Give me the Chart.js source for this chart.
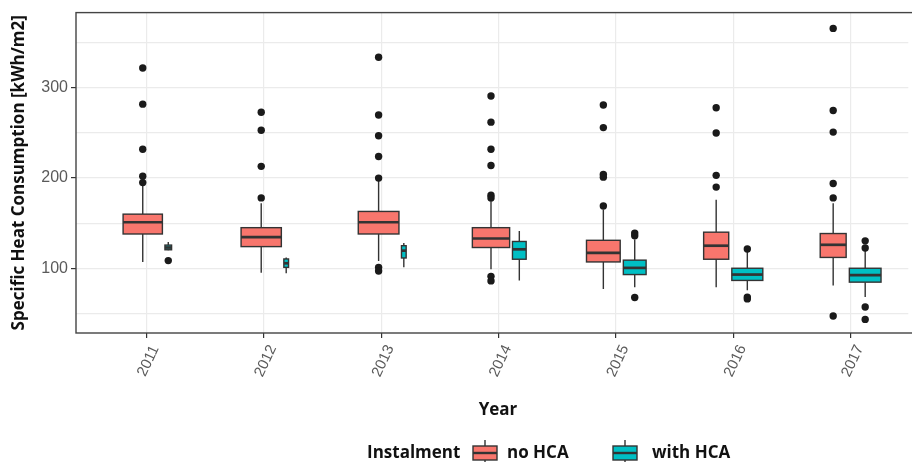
<!DOCTYPE html>
<html>
<head>
<meta charset="utf-8">
<script src="https://cdn.jsdelivr.net/npm/chart.js@4.4.0/dist/chart.umd.min.js"></script>
<style>
  body { margin: 0; background: #fff; }
</style>
</head>
<body>
<canvas id="heatChart" width="912" height="462"></canvas>
<script>
const years = ['2011', '2012', '2013', '2014', '2015', '2016', '2017'];

// [lower whisker, Q1, median, Q3, upper whisker]
const noHca = [
  [107, 138, 151, 160, 192],
  [95, 124, 134.5, 145, 172],
  [108, 138, 151, 163, 197],
  [99, 123, 133, 145, 176],
  [77, 107, 117, 131, 165],
  [79, 110, 125, 140, 176],
  [81, 112, 126, 138.5, 172]
];
const withHca = [
  [120, 120.5, 123, 125.7, 129],
  [94.5, 101, 105.5, 110.3, 112],
  [101, 111.4, 119.5, 125, 128],
  [86.5, 110, 121, 129.7, 141.4],
  [79, 93, 100.4, 109, 132],
  [75.5, 86.5, 93, 100, 119.5],
  [68, 84.6, 92.3, 100, 121]
];
const noHcaOutliers = [
  [322, 282, 232, 202, 195],
  [273, 253, 213, 178],
  [334, 270, 247, 224, 200, 101, 97],
  [291, 262, 232, 214, 181, 178, 91, 86],
  [281, 256, 204, 201, 169],
  [278, 250, 203, 190],
  [366, 275, 251, 194, 178, 47]
];
const withHcaOutliers = [
  [108.5],
  [],
  [],
  [],
  [139, 136, 67.5],
  [121.3, 68, 66],
  [130.4, 122.5, 57, 43.3]
];
// buildings per group, box width follows sqrt(n)
const noHcaN = [140, 147, 150, 126, 103, 57, 61];
const withHcaN = [4, 2, 2, 17, 47, 87, 91];

const yTicks = [50, 100, 150, 200, 250, 300, 350];
const seriesNames = ['no HCA', 'with HCA'];
const fillColors = ['#F8766D', '#00BFC4'];

// dodge the two boxes of each year side by side (varwidth)
const maxN = Math.max(...noHcaN, ...withHcaN);
const slotWidth = n => 0.77 * Math.sqrt(n / maxN) / 2;
let boxes = [];
years.forEach((yr, i) => {
  const w0 = slotWidth(noHcaN[i]);
  const w1 = slotWidth(withHcaN[i]);
  boxes.push({ x: i - w1 / 2, w: w0 * 0.9, s: noHca[i], out: noHcaOutliers[i], c: 0 });
  boxes.push({ x: i + w0 / 2, w: w1 * 0.9, s: withHca[i], out: withHcaOutliers[i], c: 1 });
});

const outlierData = [0, 1].map(c => {
  let pts = [];
  boxes.filter(b => b.c === c).forEach(b => b.out.forEach(v => pts.push({ x: b.x, y: v })));
  return pts;
});

const boldFont = '"Open Sans", sans-serif';

const boxPlugin = {
  id: 'boxes',
  beforeDatasetsDraw(chart) {
    const { ctx, scales: { x, y } } = chart;
    ctx.save();
    boxes.forEach(b => {
      const cx = x.getPixelForValue(b.x);
      const left = x.getPixelForValue(b.x - b.w / 2);
      const right = x.getPixelForValue(b.x + b.w / 2);
      const [lo, q1, med, q3, hi] = b.s.map(v => y.getPixelForValue(v));
      ctx.strokeStyle = '#333';
      ctx.lineWidth = 1.4;
      ctx.beginPath();
      ctx.moveTo(cx, lo); ctx.lineTo(cx, q1);
      ctx.moveTo(cx, q3); ctx.lineTo(cx, hi);
      ctx.stroke();
      ctx.fillStyle = fillColors[b.c];
      ctx.fillRect(left, q3, right - left, q1 - q3);
      ctx.strokeRect(left, q3, right - left, q1 - q3);
      ctx.lineWidth = 2.7;
      ctx.beginPath();
      ctx.moveTo(left, med); ctx.lineTo(right, med);
      ctx.stroke();
    });
    ctx.restore();
  },
  afterDraw(chart) {
    const { ctx, chartArea, scales: { x } } = chart;
    ctx.save();
    // panel border
    ctx.strokeStyle = '#444';
    ctx.lineWidth = 1.4;
    ctx.strokeRect(chartArea.left, chartArea.top, chartArea.right - chartArea.left + 20, chartArea.bottom - chartArea.top);

    // rotated year labels
    ctx.fillStyle = '#5a5a5a';
    ctx.font = '15px "Liberation Sans", Arial, sans-serif';
    ctx.textAlign = 'center';
    ctx.textBaseline = 'middle';
    years.forEach((yr, i) => {
      ctx.save();
      ctx.translate(x.getPixelForValue(i) + 2, 361);
      ctx.rotate(-65 * Math.PI / 180);
      ctx.fillText(yr, 0, 0);
      ctx.restore();
    });

    // axis title
    ctx.fillStyle = '#111';
    ctx.font = 'bold 17px ' + boldFont;
    ctx.fillText('Year', 498, 410);

    // legend
    ctx.textAlign = 'left';
    ctx.fillText('Instalment', 367, 453);
    const keys = [{ x: 473, label: 507 }, { x: 613, label: 652 }];
    keys.forEach((k, c) => {
      const w = 24;
      ctx.strokeStyle = '#333';
      ctx.lineWidth = 1.4;
      ctx.beginPath();
      ctx.moveTo(k.x + w / 2, 440); ctx.lineTo(k.x + w / 2, 470);
      ctx.stroke();
      ctx.fillStyle = fillColors[c];
      ctx.fillRect(k.x, 446, w, 14);
      ctx.strokeRect(k.x, 446, w, 14);
      ctx.lineWidth = 2.4;
      ctx.beginPath();
      ctx.moveTo(k.x, 453); ctx.lineTo(k.x + w, 453);
      ctx.stroke();
      ctx.fillStyle = '#111';
      ctx.fillText(seriesNames[c], k.label, 453);
    });
    ctx.restore();
  }
};

new Chart('heatChart', {
  type: 'scatter',
  data: {
    datasets: [0, 1].map(c => ({
      label: seriesNames[c],
      data: outlierData[c],
      pointRadius: 3.7,
      pointHoverRadius: 3.7,
      backgroundColor: '#1a1a1a',
      borderWidth: 0
    }))
  },
  options: {
    responsive: false,
    animation: false,
    layout: { padding: { top: 10, right: 0, bottom: 0, left: 0 } },
    plugins: { legend: { display: false }, tooltip: { enabled: false } },
    scales: {
      x: {
        type: 'linear',
        min: -0.6,
        max: 6.49,
        afterBuildTicks: s => { s.ticks = years.map((yr, i) => ({ value: i })); },
        afterFit: s => { s.height = 129; },
        ticks: { display: false },
        border: { display: false },
        grid: { color: '#ebebeb', lineWidth: 1.2, tickColor: '#333', tickLength: 5 }
      },
      y: {
        min: 28.2,
        max: 383.5,
        afterBuildTicks: s => { s.ticks = yTicks.map(v => ({ value: v })); },
        afterFit: s => { s.width = 76; },
        ticks: {
          color: '#5a5a5a',
          font: { size: 16, family: '"Liberation Sans", Arial, sans-serif' },
          padding: 3,
          callback: v => (v % 100 === 0 ? String(v) : '')
        },
        border: { display: false },
        grid: {
          color: '#ebebeb',
          lineWidth: 1.2,
          tickLength: 5,
          tickColor: ctx => (ctx.tick && ctx.tick.value % 100 === 0 ? '#333' : 'rgba(0,0,0,0)')
        },
        title: {
          display: true,
          text: 'Specific Heat Consumption [kWh/m2]',
          color: '#111',
          font: { size: 17, weight: 'bold', family: boldFont },
          padding: { top: 9, bottom: 0 }
        }
      }
    }
  },
  plugins: [boxPlugin]
});
</script>
</body>
</html>
